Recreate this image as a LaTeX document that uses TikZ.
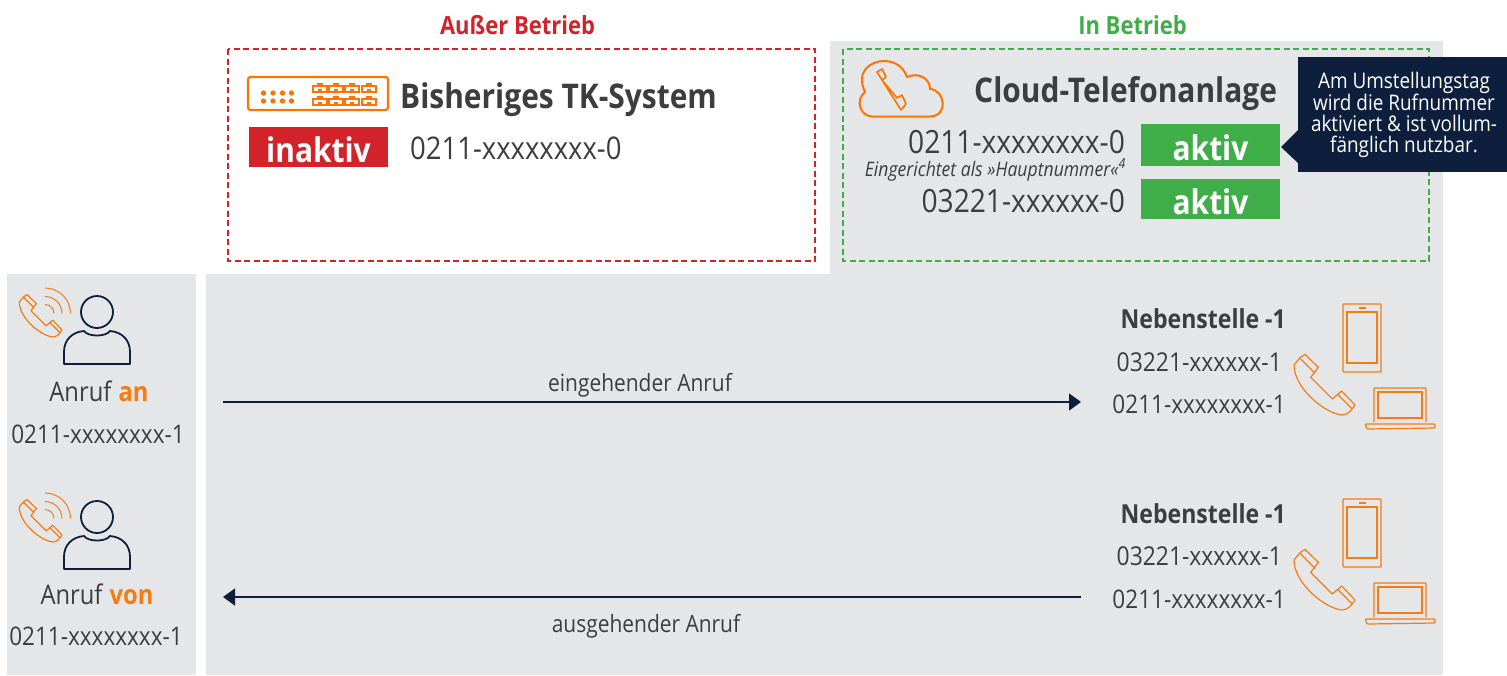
\documentclass[tikz,border=0pt]{standalone}
\usepackage{fontspec}
\setmainfont[FakeStretch=0.88]{Open Sans}
\usetikzlibrary{arrows.meta}
\definecolor{panelgrey}{HTML}{E5E6E8}
\definecolor{orangeline}{HTML}{F57C14}
\definecolor{orangeicon}{HTML}{FF7300}
\definecolor{navyblue}{HTML}{0E1F3D}
\definecolor{redstate}{HTML}{D2232A}
\definecolor{greenstate}{HTML}{3FAE49}
\definecolor{textgrey}{HTML}{3D3D3D}
\tikzset{
    txt/.style={text=textgrey, inner sep=0pt, font=\fontsize{#1}{#1}\selectfont},
    txtb/.style={text=textgrey, inner sep=0pt, font=\fontsize{#1}{#1}\selectfont\bfseries},
    statebox/.style={text=white, inner sep=0pt, minimum height=40, text height=30, text depth=0,
        font=\fontsize{34}{34}\selectfont\bfseries},
    handset/.pic={
        \draw[orangeline, line width=1.2, line join=round, x=#1*0.333pt, y=-#1*0.333pt]
            (-75,-82) -- (-60,-92) -- (-20,-53) -- (-43,-23) -- (22,42) -- (50,18) -- (90,60)
            .. controls (80,75) and (70,90) .. (50,90)
            .. controls (0,85) and (-93,10) .. (-93,-60) -- cycle
            (-73,-78) -- (-30,-35) (40,30) -- (82,72);
    },
    person/.pic={
        % handset with waves
        \pic at (41,41) {handset=0.7};
        \draw[orangeline, line width=1] (45,38.5) ++(0,-9) arc (-90:0:9);
        \draw[orangeline, line width=1] (45,38.5) ++(0,-17) arc (-90:0:17);
        \draw[orangeline, line width=1] (45,38.5) ++(0,-25.5) arc (-90:0:25.5);
        % head and body
        \draw[navyblue, line width=1.8] (97,37) circle (16);
        \draw[navyblue, line width=1.8, line join=round] (64,89) -- (64,77)
            .. controls (64,65) and (72,57) .. (84,56)
            .. controls (88,62) and (106,62) .. (110,56)
            .. controls (122,57) and (130,65) .. (130,77) -- (130,89) -- cycle;
    },
    devices/.pic={
        \pic at (1325,385) {handset=1};
        % smartphone
        \draw[orangeline, line width=1.2, rounded corners=0.6] (1343,304) rectangle (1381,372);
        \draw[orangeline, line width=1.2] (1347,312) rectangle (1377,363);
        \draw[orangeline, line width=1.2] (1359,308) -- (1366,308);
        % notebook
        \draw[orangeline, line width=1.2, rounded corners=0.8] (1374,422) -- (1374,388) -- (1426,388) -- (1426,422);
        \draw[orangeline, line width=1.2] (1378,392) rectangle (1422,418);
        \draw[orangeline, line width=1.2, rounded corners=1] (1365,424) -- (1435,424) -- (1435,428) -- (1367,429) -- cycle;
    },
    rjport/.pic={
        \draw[orangeicon, line width=2] (0,0) rectangle (14,6);
        \fill[orangeicon] (4,0) rectangle (10,-3);
        \fill[orangeicon] (5,6) rectangle (9,3);
    }
}
\begin{document}
\begin{tikzpicture}[x=1pt, y=-1pt]
    \useasboundingbox (0,0) rectangle (1507,675);

    % grey panels
    \fill[panelgrey] (7,274) rectangle (196,675);
    \fill[panelgrey] (206,274) rectangle (1443,675);
    \fill[panelgrey] (830,41) rectangle (1443,274);

    % dashed frames and headings
    \draw[redstate, line width=2, dash pattern=on 6 off 3.5] (228,49) rectangle (815,261);
    \draw[greenstate, line width=2, dash pattern=on 6 off 3.5] (843,49) rectangle (1429,261);
    \node[txtb=25, text=redstate] (ausser) at (517.5,25) {Außer Betrieb};
    \node[txtb=25, text=greenstate] (inbetrieb) at (1132.5,25) {In Betrieb};

    % old system
    \draw[orangeicon, line width=2.2, rounded corners=2.5] (248,77) rectangle (388,110);
    \foreach \x in {263.5, 273, 282.5, 291.5}
    \foreach \y in {93, 101}
    \fill[orangeicon] (\x,\y) circle (2.7);
    \foreach \x in {312.7, 329.3, 345.3, 361.7}
    \foreach \y in {85.7, 98.7}
    \pic at (\x,\y) {rjport};
    \node[txtb=34, anchor=west] (bisher) at (400,100) {Bisheriges TK-System};
    \node[statebox, fill=redstate, minimum width=139] (inaktiv) at (318.5,147) {inaktiv};
    \node[txt=31.2, anchor=west] (altnr) at (410,148) {0211-xxxxxxxx-0};

    % cloud system
    \draw[orangeicon, line width=2, line join=round] (872,116.5)
        .. controls (860,116) and (855,100) .. (865,92)
        .. controls (855,70) and (872,61) .. (884,61)
        .. controls (896,61) and (904,68) .. (907,77)
        .. controls (918,72) and (930,78) .. (930,89)
        .. controls (945,90) and (949,116) .. (930,116.5) -- cycle;
    \draw[orangeicon, line width=1.6, line join=round] (877,72) -- (882,69) -- (886,77) -- (882,80)
        -- (897,98) -- (902,95) -- (906,104) -- (901,110) -- cycle;
    \node[txtb=34, anchor=west] (cloud) at (974,94) {Cloud-Telefonanlage};
    \node[txt=32, anchor=east] (hauptnr) at (1125,142) {0211-xxxxxxxx-0};
    \node[txt=20, anchor=east, font=\fontsize{20}{20}\selectfont\itshape] (hinweis) at (1126,170) {Eingerichtet als »Hauptnummer«\textsuperscript{4}};
    \node[txt=32, anchor=east] (zweitnr) at (1125,201) {03221-xxxxxx-0};
    \node[statebox, fill=greenstate, minimum width=139, minimum height=42] (aktiva) at (1210.5,145) {aktiv};
    \node[statebox, fill=greenstate, minimum width=139] (aktivb) at (1210.5,199) {aktiv};

    % note
    \fill[navyblue] (1298,57) rectangle (1507,172);
    \fill[navyblue] (1298,130) -- (1281,147) -- (1298,163) -- cycle;
    \node[txt=21.5, text=white, align=center, font=\fontsize{21.5}{21}\selectfont] (hinw) at (1404,115)
        {Am Umstellungstag\\wird die Rufnummer\\aktiviert \& ist vollum-\\fänglich nutzbar.};

    % incoming call
    \pic at (0,275) {person};
    \node[txt=27] (anrufan) at (99,391) {Anruf \textbf{\textcolor{orangeline}{an}}};
    \node[txt=25.6] (nra) at (98,434) {0211-xxxxxxxx-1};
    \node[txt=23.8] (ein) at (640,385) {eingehender Anruf};
    \coordinate (einstart) at (223,402);
    \coordinate (einend) at (1081,402);
    \draw[navyblue, line width=1.6, -{Triangle[length=12,width=17]}] (einstart) -- (einend);
    \node[txtb=26.2, anchor=east] (nebena) at (1286,319) {Nebenstelle -1};
    \node[txt=26, anchor=east] (neba1) at (1282,362) {03221-xxxxxx-1};
    \node[txt=25.6, anchor=east] (neba2) at (1286,404) {0211-xxxxxxxx-1};
    \pic at (0,0) {devices};

    % outgoing call
    \pic at (0,480) {person};
    \node[txt=27] (anrufvon) at (97,594) {Anruf \textbf{\textcolor{orangeline}{von}}};
    \node[txt=25.6] (nrb) at (96,636) {0211-xxxxxxxx-1};
    \node[txt=23.8] (aus) at (646,626) {ausgehender Anruf};
    \coordinate (ausstart) at (1081,597);
    \coordinate (ausend) at (223,597);
    \draw[navyblue, line width=1.6, -{Triangle[length=12,width=17]}] (ausstart) -- (ausend);
    \node[txtb=26.2, anchor=east] (nebenb) at (1286,514) {Nebenstelle -1};
    \node[txt=26, anchor=east] (nebb1) at (1282,556) {03221-xxxxxx-1};
    \node[txt=25.6, anchor=east] (nebb2) at (1286,599) {0211-xxxxxxxx-1};
    \pic at (0,195) {devices};
\end{tikzpicture}
\end{document}
